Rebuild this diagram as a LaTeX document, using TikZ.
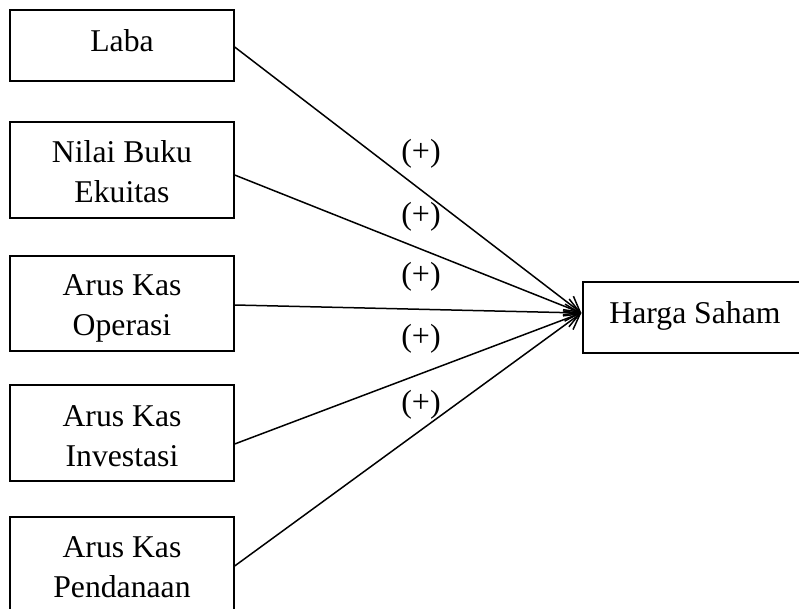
\documentclass[tikz,border=0pt]{standalone}
\usepackage{fontspec}
\setmainfont{Liberation Serif}
\usetikzlibrary{arrows.meta,calc}
\begin{document}
\begin{tikzpicture}[x=1pt,y=-1pt,
  box/.style={draw,line width=1.3pt,inner sep=0pt,minimum width=224pt},
  txt/.style={anchor=north,inner sep=0pt,align=center,font=\fontsize{31.7}{40}\selectfont},
  lbl/.style={inner sep=0pt,font=\fontsize{32}{36}\selectfont},
  arr/.style={line width=1.5pt,-{Straight Barb[length=15pt,width=17pt,line width=1.5pt]}}]
\useasboundingbox (0,0) rectangle (799,609);
\clip (0,0) rectangle (799,609);
% boxes
\node[box,minimum height=71pt] (b1) at (122,45.5) {};
\node[box,minimum height=96pt] (b2) at (122,170) {};
\node[box,minimum height=95pt] (b3) at (122,303.5) {};
\node[box,minimum height=96pt] (b4) at (122,433) {};
\node[box,minimum height=96pt] (b5) at (122,565) {};
\node[box,minimum height=71pt] (hs) at (695,317.5) {};
% texts
\node[txt] (t1) at ([yshift=-20pt]b1.north) {Laba};
\node[txt] (t2) at ([yshift=-19pt]b2.north) {Nilai Buku\\Ekuitas};
\node[txt] (t3) at ([yshift=-19pt]b3.north) {Arus Kas\\Operasi};
\node[txt] (t4) at ([yshift=-21pt]b4.north) {Arus Kas\\Investasi};
\node[txt] (t5) at ([yshift=-20pt]b5.north) {Arus Kas\\Pendanaan};
\node[txt] (ths) at ([yshift=-20pt]hs.north) {Harga Saham};
% tip
\coordinate (tip) at ([xshift=-1pt,yshift=4.5pt]hs.west);
% arrows
\draw[arr] ([yshift=-1.5pt]b1.east) -- (tip);
\draw[arr] ([yshift=-5pt]b2.east) -- (tip);
\draw[arr] ([yshift=-1.5pt]b3.east) -- (tip);
\draw[arr] ([yshift=-11pt]b4.east) -- (tip);
\draw[arr] ([yshift=-1pt]b5.east) -- (tip);
% labels
\node[lbl] (l1) at (421,154) {(+)};
\node[lbl] (l2) at (421,217) {(+)};
\node[lbl] (l3) at (421,277) {(+)};
\node[lbl] (l4) at (421,339) {(+)};
\node[lbl] (l5) at (421,405) {(+)};
\end{tikzpicture}
\end{document}
